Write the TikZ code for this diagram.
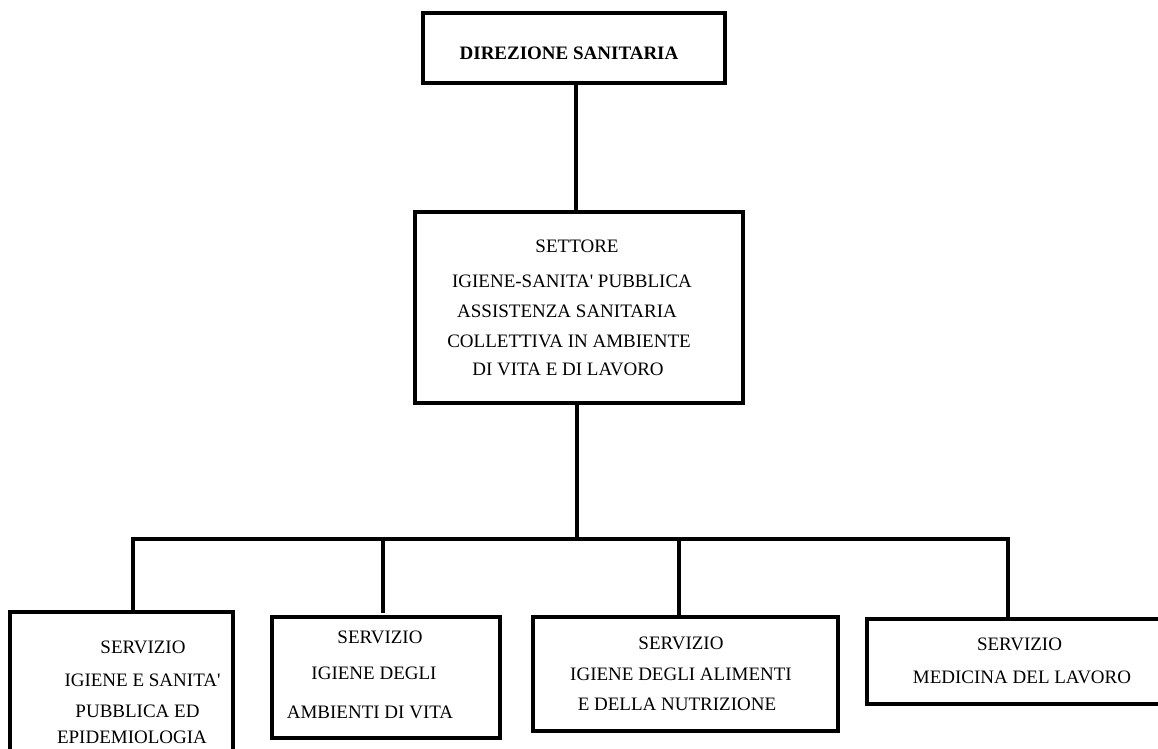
\documentclass[tikz,border=0pt]{standalone}
\usepackage{fontspec}
\setmainfont{Liberation Serif}[Ligatures=TeXOff]
\begin{document}
\begin{tikzpicture}[x=1pt,y=-1pt,
  box/.style={draw=black, line width=3.4pt, fill=white, inner sep=0pt, outer sep=0pt},
  conn/.style={draw=black, line width=3.2pt},
  lbl/.style={anchor=base, inner sep=0pt, font=\fontsize{19}{22}\selectfont},
  blbl/.style={lbl, font=\fontsize{19}{22}\selectfont\bfseries}]
\clip (0,0) rectangle (1158,748);
\fill[white] (0,0) rectangle (1158,748);
% boxes
\node[box, minimum width=302pt, minimum height=70pt] (dir) at (574,48) {};
\node[box, minimum width=328pt, minimum height=191pt] (set) at (579,307.5) {};
\node[box, minimum width=223pt, minimum height=160pt] (s1) at (121.5,692) {};
\node[box, minimum width=228pt, minimum height=121pt] (s2) at (386,677.5) {};
\node[box, minimum width=305pt, minimum height=114pt] (s3) at (685.5,674) {};
\node[box, minimum width=300pt, minimum height=85pt] (s4) at (1017,661.5) {};
% bus
\coordinate (bl) at (133,539);
\coordinate (br) at (1010,539);
\coordinate (bm) at (577,539);
\draw[conn] ([xshift=2pt]dir.south) -- ([xshift=2pt]dir.south |- set.north);
\draw[conn] ([xshift=-2pt]set.south) -- (bm);
\draw[conn] (bl) -- (br);
\draw[conn] ([yshift=2.5pt]bl) -- (bl |- s1.north);
\coordinate (b2) at (383,539);
\draw[conn] ([yshift=2.5pt]b2) -- ([yshift=4pt]b2 |- s2.north);
\coordinate (b3) at (679,539);
\draw[conn] (b3) -- (b3 |- s3.north);
\coordinate (b4) at (1008,539);
\draw[conn] (b4) -- (b4 |- s4.north);
% texts
\node[blbl] (t0) at (569,59) {DIREZIONE SANITARIA};
\node[lbl] (t1) at (577,252) {SETTORE};
\node[lbl] (t2) at (572,287) {IGIENE-SANITA' PUBBLICA};
\node[lbl] (t3) at (567,317) {ASSISTENZA SANITARIA};
\node[lbl] (t4) at (569,347) {COLLETTIVA IN AMBIENTE};
\node[lbl] (t5) at (568,375) {DI VITA E DI LAVORO};
\node[lbl] (a1) at (143,653) {SERVIZIO};
\node[lbl] (a2) at (142.5,686) {IGIENE E SANITA'};
\node[lbl] (a3) at (137.5,717) {PUBBLICA ED};
\node[lbl] (a4) at (132,743) {EPIDEMIOLOGIA};
\node[lbl] (c1) at (380,643) {SERVIZIO};
\node[lbl] (c2) at (374,679) {IGIENE DEGLI};
\node[lbl] (c3) at (370,718) {AMBIENTI DI VITA};
\node[lbl] (d1) at (681,649) {SERVIZIO};
\node[lbl] (d2) at (681,680) {IGIENE DEGLI ALIMENTI};
\node[lbl] (d3) at (677,710) {E DELLA NUTRIZIONE};
\node[lbl] (e1) at (1019.5,650) {SERVIZIO};
\node[lbl] (e2) at (1022,683) {MEDICINA DEL LAVORO};
\end{tikzpicture}
\end{document}
